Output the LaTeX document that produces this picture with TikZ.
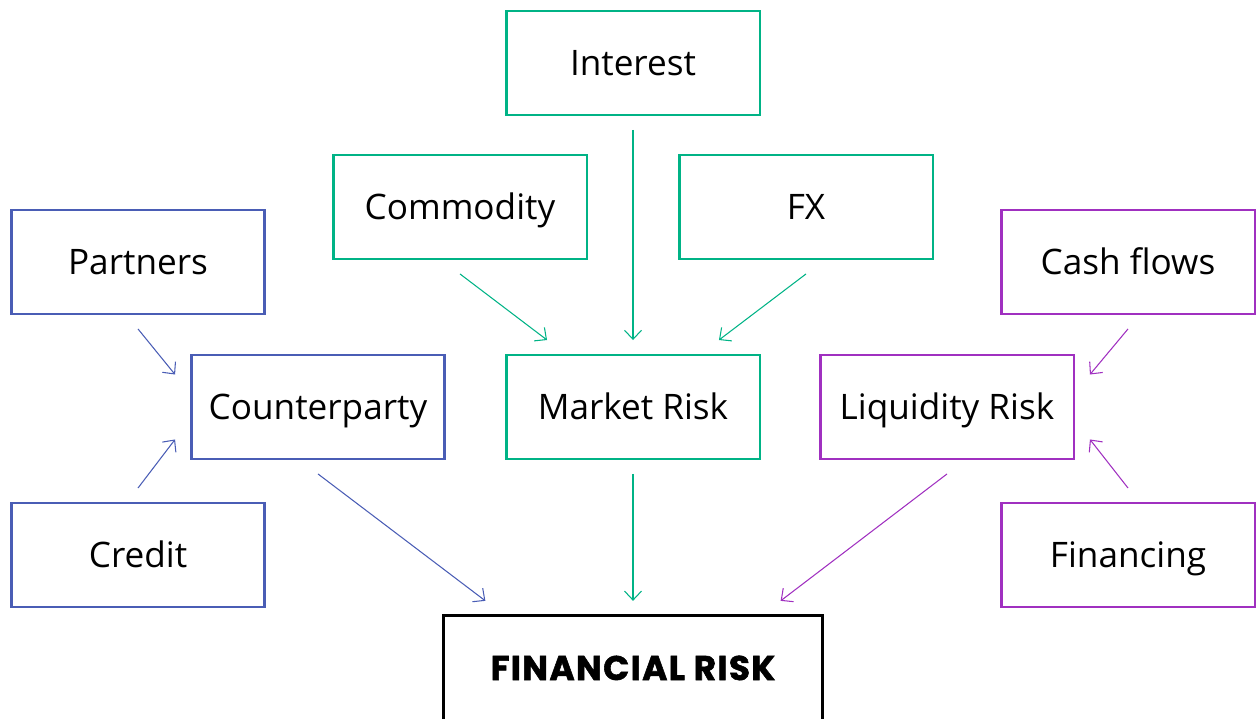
\documentclass[tikz,border=0pt]{standalone}
\usepackage{fontspec}
\setmainfont{Open Sans}
\newfontfamily\headfont{Poppins}[BoldFeatures={FakeBold=1.6,LetterSpace=4}]
\usepackage{xcolor}
\usepackage{tikz}
\usetikzlibrary{positioning,calc,arrows.meta}

\definecolor{cptblue}{HTML}{4A5DB5}
\definecolor{mktgreen}{HTML}{00B386}
\definecolor{liqpurple}{HTML}{A030C0}

\begin{document}
\begin{tikzpicture}[x=0.02cm,y=0.02cm,
    box/.style={draw, line width=1.4pt, minimum width=5.07cm, minimum height=2.09cm,
        inner sep=0pt, text height=14.3pt, text depth=0pt,
        font=\fontsize{20}{24}\selectfont},
    arr/.style={line width=0.6pt, -{Straight Barb[length=1.8mm,width=3.4mm]}}]
    \useasboundingbox (0,0) rectangle (1258,719);

    % Market risk
    \node[box, mktgreen] (interest) at (633,656) {\color{black}Interest};
    \node[box, mktgreen] (commodity) at (460,512) {\color{black}Commodity};
    \node[box, mktgreen] (fx) at (806,512) {\color{black}FX};
    \node[box, mktgreen] (market) at (633,312) {\color{black}Market Risk};

    % Counterparty
    \node[box, cptblue] (partners) at (138,457) {\color{black}Partners};
    \node[box, cptblue] (credit) at (138,164) {\color{black}Credit};
    \node[box, cptblue] (counter) at (318,312) {\color{black}Counterparty};

    % Liquidity
    \node[box, liqpurple] (cashflows) at (1128,457) {\color{black}Cash flows};
    \node[box, liqpurple] (financing) at (1128,164) {\color{black}Financing};
    \node[box, liqpurple] (liquidity) at (947,312) {\color{black}Liquidity Risk};

    % Financial risk
    \node[box, black, line width=1.6pt, minimum width=7.57cm, text height=13.7pt,
        font=\headfont\bfseries\fontsize{19.5}{24}\selectfont]
        (financial) at (633,51) {FINANCIAL RISK};

    % arrows
    \draw[arr, mktgreen] ([yshift=-0.27cm]interest.south) -- ([yshift=0.27cm]market.north);
    \draw[arr, mktgreen] ([yshift=-0.27cm]commodity.south) -- ([xshift=0.84cm,yshift=0.27cm]market.north west);
    \draw[arr, mktgreen] ([yshift=-0.27cm]fx.south) -- ([xshift=-0.84cm,yshift=0.27cm]market.north east);

    \draw[arr, cptblue] ([yshift=-0.27cm]partners.south) -- ([xshift=-0.3cm,yshift=-0.42cm]counter.north west);
    \draw[arr, cptblue] ([yshift=0.27cm]credit.north) -- ([xshift=-0.3cm,yshift=0.42cm]counter.south west);

    \draw[arr, liqpurple] ([yshift=-0.27cm]cashflows.south) -- ([xshift=0.3cm,yshift=-0.42cm]liquidity.north east);
    \draw[arr, liqpurple] ([yshift=0.27cm]financing.north) -- ([xshift=0.3cm,yshift=0.42cm]liquidity.south east);

    \draw[arr, cptblue] ([yshift=-0.27cm]counter.south) -- ([xshift=0.86cm,yshift=0.27cm]financial.north west);
    \draw[arr, mktgreen] ([yshift=-0.27cm]market.south) -- ([yshift=0.27cm]financial.north);
    \draw[arr, liqpurple] ([yshift=-0.27cm]liquidity.south) -- ([xshift=-0.86cm,yshift=0.27cm]financial.north east);
\end{tikzpicture}
\end{document}
